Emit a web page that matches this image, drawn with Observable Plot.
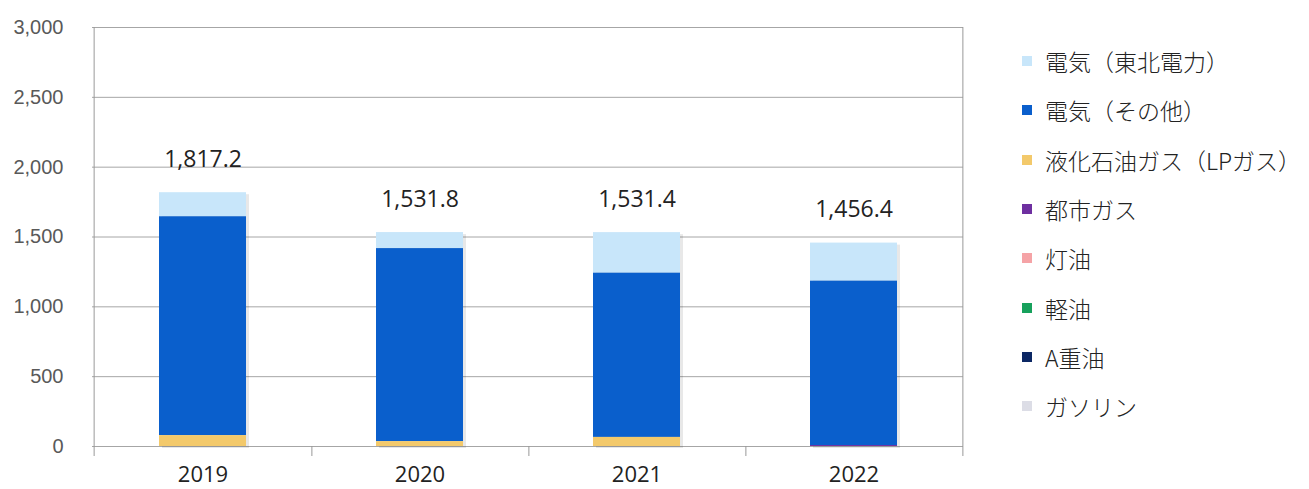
<!DOCTYPE html>
<html><head><meta charset="utf-8">
<script src="https://cdn.jsdelivr.net/npm/d3@7"></script>
<script src="https://cdn.jsdelivr.net/npm/@observablehq/plot@0.6"></script>
<style>
body{margin:0;background:#fff;}
#wrap{position:relative;width:1309px;height:489px;overflow:hidden;}
#legend{position:absolute;left:1022px;top:0;font-family:"Noto Sans CJK JP";font-weight:300;font-size:23px;color:#222;}
.item{position:absolute;left:0;display:flex;align-items:center;white-space:nowrap;height:30px;}
.sw{width:10px;height:10px;margin-right:13px;flex:none;}
</style></head>
<body><div id="wrap"><div id="chart"></div><div id="legend"></div></div>
<script>
const years = ["2019","2020","2021","2022"];
const series = ["電気（東北電力）","電気（その他）","液化石油ガス（LPガス）","都市ガス","灯油","軽油","A重油","ガソリン"];
const colors = ["#c8e6fa","#0a5fcc","#f3c96b","#6e2fa0","#f5a3a6","#17a15c","#0c2764","#dcdde6"];
const tohoku   = [172.2, 114.8, 290.4, 272.4];
const other    = [1567, 1382, 1176, 1177];
const lpg      = [78, 35, 65, 0];
const cityGas  = [0, 0, 0, 7];
const kerosene = [0, 0, 0, 0];
const lightOil = [0, 0, 0, 0];
const heavyOilA= [0, 0, 0, 0];
const gasoline = [0, 0, 0, 0];
const totals   = [1817.2, 1531.8, 1531.4, 1456.4];
const yTicks   = [0, 500, 1000, 1500, 2000, 2500, 3000];

const seriesValues = [tohoku, other, lpg, cityGas, kerosene, lightOil, heavyOilA, gasoline];
const rows = [];
years.forEach((yr, i) => {
  series.forEach((s, j) => rows.push({year: yr, series: s, value: seriesValues[j][i]}));
});
const totalRows = years.map((yr, i) => ({year: yr, total: totals[i]}));
const stackOrder = [...series].reverse();

const W = 1309, ML = 92, MR = 346;
const step = (W - ML - MR) / years.length;

const chart = Plot.plot({
  width: W, height: 489,
  marginLeft: ML, marginRight: MR, marginTop: 27, marginBottom: 43,
  style: {fontFamily: "Open Sans", background: "#fff"},
  x: {domain: years, paddingInner: 0.6, paddingOuter: 0.3, label: null},
  y: {domain: [0, 3000], label: null},
  color: {domain: series, range: colors},
  marks: [
    Plot.gridY(yTicks, {stroke: "#a6a6a6", strokeOpacity: 1}),
    Plot.ruleX([years[0]], {x: d => d, dx: -step / 2, stroke: "#999", insetBottom: -10}),
    Plot.ruleX(years, {x: d => d, dx: step / 2, y1: (d, i) => i === years.length - 1 ? 3000 : 0, y2: 0, stroke: "#999", insetBottom: -10}),
    Plot.barY(totalRows, {x: "year", y: "total", fill: "#000", fillOpacity: 0.09, dx: 3, dy: 2}),
    Plot.barY(rows, {x: "year", y: "value", fill: "series", order: stackOrder}),
    Plot.text(totalRows, {x: "year", y: "total", text: d => d3.format(",.1f")(d.total), dy: -33, fontSize: 23, fill: "#222"}),
    Plot.axisY(yTicks, {tickSize: 0, tickPadding: 29, tickFormat: d3.format(","), fontSize: 20, fill: "#595959", fontFamily: "Liberation Sans", label: null}),
    Plot.axisX({tickSize: 0, tickPadding: 20, fontSize: 22, fill: "#222", label: null})
  ]
});
document.getElementById("chart").appendChild(chart);

const legend = document.getElementById("legend");
series.forEach((s, i) => {
  const item = document.createElement("div");
  item.className = "item";
  item.style.top = (46 + 49.3 * i) + "px";
  const sw = document.createElement("div");
  sw.className = "sw";
  sw.style.background = colors[i];
  const label = document.createElement("span");
  label.textContent = s;
  item.appendChild(sw);
  item.appendChild(label);
  legend.appendChild(item);
});
</script>
</body></html>
